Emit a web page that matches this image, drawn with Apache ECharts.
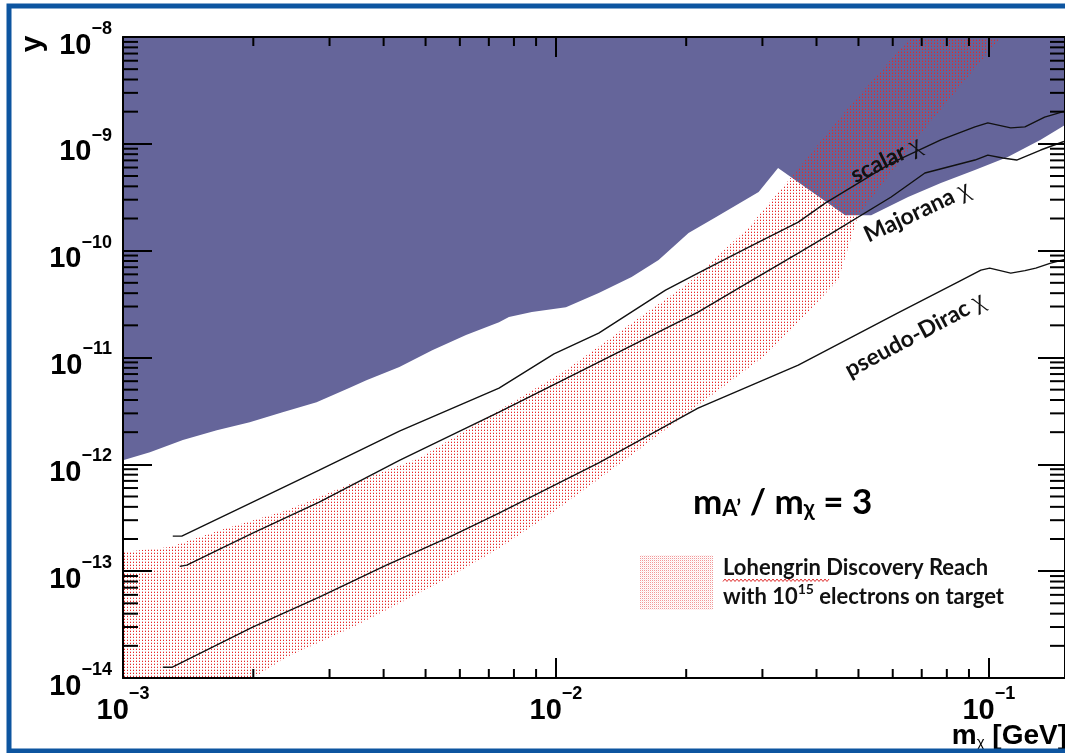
<!DOCTYPE html>
<html>
<head>
<meta charset="utf-8">
<script src="https://cdn.jsdelivr.net/npm/echarts@6/dist/echarts.min.js"></script>
<style>
  html, body { margin: 0; padding: 0; background: #fff; }
  #chart { width: 1065px; height: 753px; }
</style>
</head>
<body>
<div id="chart"></div>
<script>
// Axis ranges: dark-matter mass m_chi [GeV] and interaction strength y
const X_MIN = 1e-3, X_MAX = 0.15, Y_MIN = 1e-14, Y_MAX = 1e-8;

// Lower edge of the already excluded region (filled up to the top of the frame)
const EXCLUDED_EDGE = [
  [1.0e-3, 1.09e-12], [1.154e-3, 1.30e-12], [1.375e-3, 1.69e-12], [1.647e-3, 2.09e-12],
  [1.962e-3, 2.48e-12], [2.337e-3, 3.08e-12], [2.80e-3, 3.82e-12], [3.33e-3, 5.17e-12],
  [3.65e-3, 6.14e-12], [4.35e-3, 8.13e-12], [5.18e-3, 1.17e-11], [6.20e-3, 1.62e-11],
  [7.39e-3, 2.14e-11], [7.79e-3, 2.39e-11], [8.80e-3, 2.66e-11], [1.055e-2, 2.96e-11],
  [1.256e-2, 4.01e-11], [1.496e-2, 5.66e-11], [1.727e-2, 8.17e-11], [2.025e-2, 1.46e-10],
  [2.34e-2, 2.06e-10], [2.94e-2, 3.54e-10], [3.26e-2, 5.93e-10], [4.66e-2, 2.15e-10],
  [5.35e-2, 2.15e-10], [6.51e-2, 3.18e-10], [7.75e-2, 4.30e-10], [9.29e-2, 5.69e-10],
  [0.1106, 7.52e-10], [0.1318, 1.09e-9], [0.15, 1.5e-9]
];

// Lohengrin discovery reach band: upper-left and lower-right edges
const REACH_UPPER = [
  [1e-3, 1.51e-13], [1.283e-3, 1.68e-13], [1.674e-3, 2.42e-13], [2.39e-3, 3.72e-13],
  [3.39e-3, 6.67e-13], [4.83e-3, 1.14e-12], [7.39e-3, 3.21e-12], [1.055e-2, 7.62e-12],
  [1.496e-2, 2.10e-11], [2.025e-2, 4.97e-11], [2.79e-2, 1.66e-10], [3.50e-2, 4.89e-10],
  [4.73e-2, 2.16e-9], [6.61e-2, 1e-8]
];
const REACH_LOWER = [
  [1e-3, 1e-14], [1.993e-3, 1e-14], [2.39e-3, 1.57e-14], [3.39e-3, 2.99e-14],
  [4.83e-3, 6.22e-14], [5.67e-3, 8.79e-14], [7.39e-3, 1.64e-13], [1e-2, 3.72e-13],
  [1.496e-2, 1.22e-12], [2.13e-2, 3.58e-12], [3.05e-2, 1.05e-11], [3.63e-2, 2.14e-11],
  [4.49e-2, 5.31e-11], [4.99e-2, 2.15e-10], [7.23e-2, 1.5e-9], [0.1066, 1e-8]
];

// Thermal relic targets
const SCALAR = [
  [1.303e-3, 2.13e-13], [1.367e-3, 2.13e-13], [1.993e-3, 4.43e-13], [2.84e-3, 8.83e-13],
  [4.35e-3, 2.05e-12], [7.39e-3, 5.17e-12], [9.9e-3, 1.08e-11], [1.256e-2, 1.69e-11],
  [1.792e-2, 4.28e-11], [2.13e-2, 6.17e-11], [2.79e-2, 1.08e-10], [3.63e-2, 1.85e-10],
  [4.19e-2, 2.79e-10], [5.95e-2, 6.61e-10], [7.75e-2, 1.09e-9], [9.29e-2, 1.44e-9],
  [9.95e-2, 1.57e-9], [0.1124, 1.41e-9], [0.1212, 1.44e-9], [0.1346, 1.78e-9],
  [0.148, 1.99e-9], [0.15, 2.02e-9]
];
const MAJORANA = [
  [1.353e-3, 1.11e-13], [1.404e-3, 1.14e-13], [1.993e-3, 2.27e-13], [2.84e-3, 4.43e-13],
  [4.35e-3, 1.09e-12], [7.39e-3, 3.08e-12], [1.256e-2, 9.06e-12], [2.13e-2, 2.66e-11],
  [2.79e-2, 5.08e-11], [3.63e-2, 9.5e-11], [4.19e-2, 1.34e-10], [5.95e-2, 3.18e-10],
  [7.12e-2, 5.33e-10], [9.29e-2, 7.05e-10], [9.95e-2, 7.85e-10], [0.1077, 7.36e-10],
  [0.116, 7.05e-10], [0.1318, 8.75e-10], [0.148, 1.04e-9], [0.15, 1.06e-9]
];
const PSEUDO_DIRAC = [
  [1.236e-3, 1.26e-14], [1.297e-3, 1.26e-14], [1.993e-3, 2.99e-14], [2.84e-3, 5.71e-14],
  [4.06e-3, 1.14e-13], [5.67e-3, 2.08e-13], [7.39e-3, 3.49e-13], [1.256e-2, 1.03e-12],
  [2.13e-2, 3.36e-12], [3.63e-2, 8.49e-12], [6.17e-2, 2.61e-11], [8.48e-2, 5.08e-11],
  [9.59e-2, 6.58e-11], [0.1005, 6.87e-11], [0.1124, 6.17e-11], [0.1212, 6.5e-11],
  [0.1284, 6.87e-11], [0.139, 7.65e-11], [0.148, 8.17e-11], [0.15, 8.3e-11]
];

// Curve annotations: anchor point (data space), text, rotation in degrees
const CURVE_LABEL_POS = [[0.0579, 7.05e-10], [0.0683, 2.30e-10], [0.0675, 1.62e-11]];
const CURVE_LABEL_TEXT = ['scalar', 'Majorana', 'pseudo-Dirac'];
const CURVE_LABEL_ANGLE = [26, 25, 28];

// Minor tick positions (2..9 within each decade)
const MINOR_MULTIPLIERS = [2, 3, 4, 5, 6, 7, 8, 9];
const X_DECADES = [1e-3, 1e-2, 1e-1];
const Y_DECADES = [1e-14, 1e-13, 1e-12, 1e-11, 1e-10, 1e-9];

const AXIS_FONT = "'Liberation Sans', Arial, Helvetica, sans-serif";
const NOTE_FONT = "Lato, 'Open Sans', sans-serif";
const EXCLUDED_COLOR = '#65659a';

// Red dot tiles: the band fill and the finer legend swatch
function dotTile(w, h, dots) {
  const c = document.createElement('canvas');
  c.width = w; c.height = h;
  const g = c.getContext('2d');
  dots.forEach(d => { g.fillStyle = d[2]; g.fillRect(d[0], d[1], 1, 1); });
  return { image: c, repeat: 'repeat' };
}
const DOTS = dotTile(3, 3, [[1, 1, 'rgba(230,40,40,1)'], [1, 0, 'rgba(230,40,40,0.3)']]);
const LEGEND_DOTS = dotTile(2, 2, [[0, 0, 'rgba(230,50,50,0.5)'], [1, 1, 'rgba(230,50,50,0.1)']]);

const tickData = [];
X_DECADES.forEach(d => MINOR_MULTIPLIERS.forEach(m => {
  const v = d * m;
  if (v < X_MAX) tickData.push([v, Y_MIN, 0]);
}));
Y_DECADES.forEach(d => MINOR_MULTIPLIERS.forEach(m => tickData.push([X_MIN, d * m, 1])));

function powLabel(value) {
  const e = Math.round(Math.log10(value));
  return '{b|10}{s|\u2212' + (-e) + '}';
}
const powRich = {
  b: { fontFamily: AXIS_FONT, fontWeight: 'bold', fontSize: 29, color: '#000', lineHeight: 40, verticalAlign: 'bottom' },
  s: { fontFamily: AXIS_FONT, fontWeight: 'bold', fontSize: 18, color: '#000', lineHeight: 16, verticalAlign: 'top' }
};

function polygonSeries(name, pts, fill, z) {
  return {
    type: 'custom', name, z, silent: true, animation: false,
    data: pts,
    renderItem(params, api) {
      if (params.dataIndex !== 0) return null;
      return {
        type: 'polygon',
        shape: { points: pts.map(p => api.coord(p)) },
        style: { fill: fill, stroke: null }
      };
    }
  };
}

function lineSeries(name, pts) {
  return {
    type: 'line', name, data: pts, z: 4, silent: true, animation: false,
    showSymbol: false, symbol: 'none',
    lineStyle: { color: '#111', width: 1.4 }
  };
}

const reachPolygon = REACH_UPPER.concat(REACH_LOWER.slice().reverse());

const axisCommon = {
  type: 'log', logBase: 10, z: 10,
  axisLine: { show: true, lineStyle: { color: '#000', width: 2 } },
  splitLine: { show: false },
  minorTick: { show: false },
  minorSplitLine: { show: false }
};

const option = {
  animation: false,
  backgroundColor: '#fff',
  grid: { left: 123, top: 37, width: 944.5, height: 641, containLabel: false },
  xAxis: [
    Object.assign({}, axisCommon, {
      min: X_MIN, max: X_MAX, position: 'bottom',
      axisTick: { inside: true, length: 20, lineStyle: { color: '#000', width: 2 } },
      axisLabel: { margin: 7, formatter: powLabel, rich: powRich, showMaxLabel: false }
    }),
    Object.assign({}, axisCommon, {
      min: X_MIN, max: X_MAX, position: 'top',
      axisTick: { inside: true, length: 20, lineStyle: { color: '#000', width: 2 } },
      axisLabel: { show: false }
    })
  ],
  yAxis: [
    Object.assign({}, axisCommon, {
      min: Y_MIN, max: Y_MAX, position: 'left',
      axisTick: { inside: true, length: 29, lineStyle: { color: '#000', width: 2 } },
      axisLabel: { margin: 11, formatter: powLabel, rich: powRich, padding: [6, 0, 0, 0] }
    }),
    Object.assign({}, axisCommon, {
      min: Y_MIN, max: Y_MAX, position: 'right',
      axisTick: { inside: true, length: 27, lineStyle: { color: '#000', width: 2 } },
      axisLabel: { show: false }
    })
  ],
  series: [
    polygonSeries('excluded', EXCLUDED_EDGE.concat([[X_MAX, Y_MAX], [X_MIN, Y_MAX]]), EXCLUDED_COLOR, 1),
    polygonSeries('Lohengrin reach', reachPolygon, DOTS, 2),
    lineSeries('scalar', SCALAR),
    lineSeries('Majorana', MAJORANA),
    lineSeries('pseudo-Dirac', PSEUDO_DIRAC),
    {
      type: 'custom', name: 'curve labels', z: 6, silent: true, animation: false,
      data: CURVE_LABEL_POS,
      renderItem(params, api) {
        const i = params.dataIndex;
        const p = api.coord(CURVE_LABEL_POS[i]);
        return {
          type: 'text', x: p[0], y: p[1],
          rotation: CURVE_LABEL_ANGLE[i] * Math.PI / 180,
          style: {
            text: '{t|' + CURVE_LABEL_TEXT[i] + ' }{c|\u03c7}',
            align: 'center', verticalAlign: 'middle',
            rich: {
              t: { fontFamily: NOTE_FONT, fontWeight: 'bold', fontSize: 23, fill: '#111', color: '#111' },
              c: { fontFamily: "'Liberation Serif', 'DejaVu Serif', serif", fontSize: 26, fill: '#111', color: '#111' }
            }
          }
        };
      }
    },
    {
      type: 'custom', name: 'minor ticks', z: 20, silent: true, animation: false,
      data: tickData,
      renderItem(params, api) {
        const cs = params.coordSys;
        const style = { stroke: '#000', lineWidth: 2 };
        if (api.value(2) === 0) {
          const px = api.coord([api.value(0), Y_MIN])[0];
          return { type: 'group', children: [
            { type: 'line', shape: { x1: px, y1: cs.y + cs.height, x2: px, y2: cs.y + cs.height - 9 }, style },
            { type: 'line', shape: { x1: px, y1: cs.y, x2: px, y2: cs.y + 9 }, style }
          ] };
        }
        const py = api.coord([X_MIN, api.value(1)])[1];
        return { type: 'group', children: [
          { type: 'line', shape: { x1: cs.x, y1: py, x2: cs.x + 15, y2: py }, style },
          { type: 'line', shape: { x1: cs.x + cs.width, y1: py, x2: cs.x + cs.width - 15, y2: py }, style }
        ] };
      }
    }
  ],
  graphic: []
};

const chart = echarts.init(document.getElementById('chart'), null, { renderer: 'canvas' });
chart.setOption(option);

// Spell-check style squiggle under "Lohengrin"
const squiggle = [];
for (let x = 723, k = 0; x <= 830; x += 2, k++) squiggle.push([x, k % 2 ? 579 : 581.5]);

chart.setOption({
  graphic: [
    // slide frame
    { type: 'rect', z: 50, shape: { x: 9, y: 6, width: 1200, height: 745 },
      style: { fill: null, stroke: '#0d55a0', lineWidth: 5 } },
    // axis titles
    { type: 'text', z: 30, x: 33, y: 44, rotation: Math.PI / 2,
      style: { text: 'y', font: 'bold 30px ' + AXIS_FONT, fill: '#000', align: 'center', verticalAlign: 'middle' } },
    { type: 'text', z: 30, x: 1067, y: 750,
      style: {
        text: '{m|m}{c|\u03c7}{m| [GeV]}', align: 'right', verticalAlign: 'bottom',
        rich: {
          m: { fontFamily: AXIS_FONT, fontWeight: 'bold', fontSize: 28, fill: '#000', lineHeight: 34, verticalAlign: 'bottom' },
          c: { fontFamily: AXIS_FONT, fontSize: 15, fill: '#000', lineHeight: 10, verticalAlign: 'bottom' }
        }
      } },
    // mass ratio note
    { type: 'text', z: 30, x: 693, y: 520,
      style: {
        text: '{m|m}{s|A\u2019}{m| / m}{s|\u03c7}{m| = 3}', align: 'left', verticalAlign: 'bottom',
        rich: {
          m: { fontFamily: NOTE_FONT, fontWeight: 'bold', fontSize: 35, fill: '#000', lineHeight: 40, verticalAlign: 'bottom' },
          s: { fontFamily: NOTE_FONT, fontWeight: 'bold', fontSize: 22, fill: '#000', lineHeight: 14, verticalAlign: 'bottom' }
        }
      } },
    // legend
    { type: 'rect', z: 30, shape: { x: 640, y: 555, width: 73, height: 55 }, style: { fill: LEGEND_DOTS } },
    { type: 'text', z: 30, x: 723, y: 568,
      style: { text: 'Lohengrin Discovery Reach', font: 'bold 22px ' + NOTE_FONT, fill: '#111', align: 'left', verticalAlign: 'middle' } },
    { type: 'text', z: 30, x: 723, y: 595,
      style: {
        text: '{n|with 10}{p|15}{n| electrons on target}', align: 'left', verticalAlign: 'middle',
        rich: {
          n: { fontFamily: NOTE_FONT, fontWeight: 'bold', fontSize: 22, fill: '#111', lineHeight: 26, verticalAlign: 'bottom' },
          p: { fontFamily: NOTE_FONT, fontWeight: 'bold', fontSize: 14, fill: '#111', lineHeight: 16, verticalAlign: 'top' }
        }
      } },
    { type: 'polyline', z: 31, shape: { points: squiggle }, style: { stroke: '#e03030', lineWidth: 1, fill: null } }
  ]
});
</script>
</body>
</html>
